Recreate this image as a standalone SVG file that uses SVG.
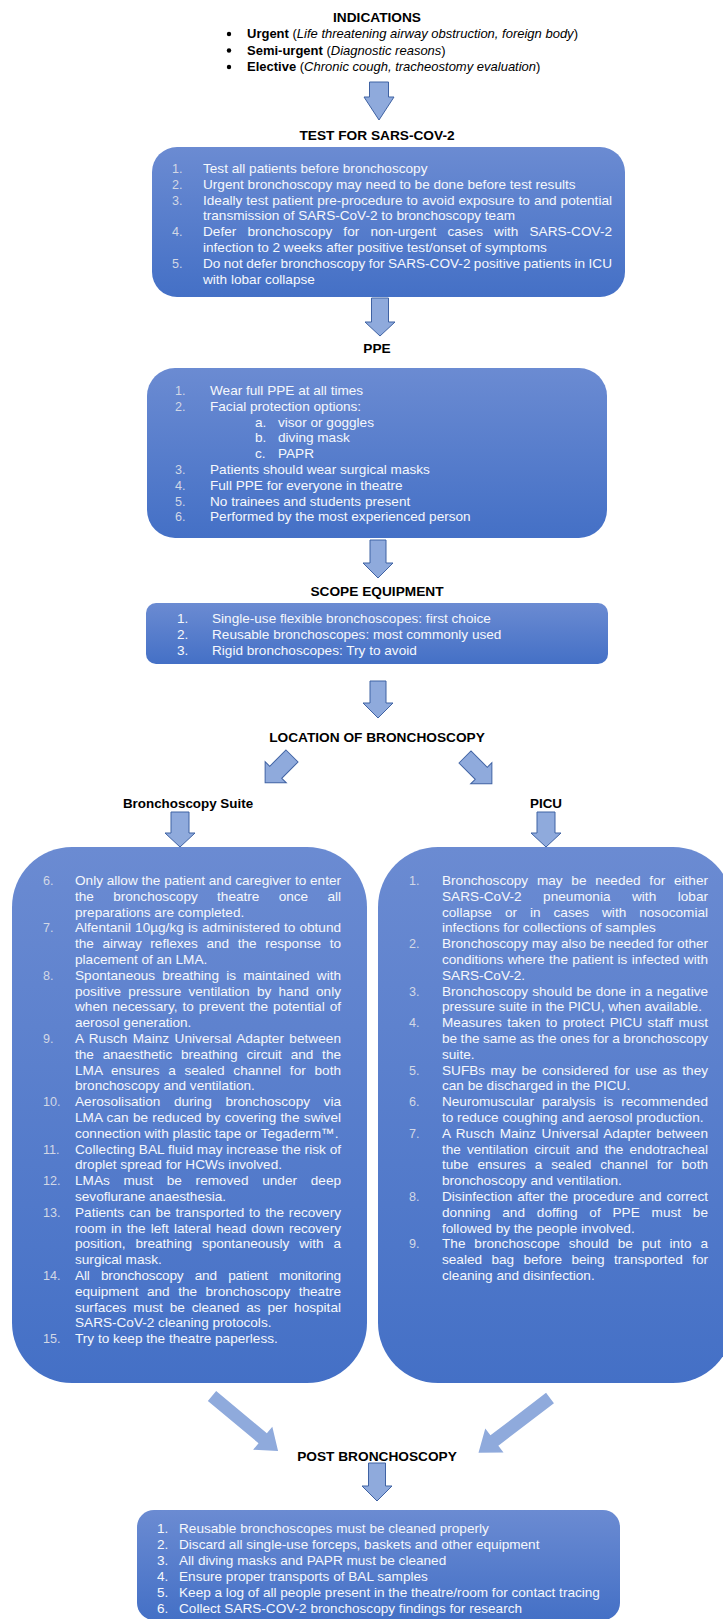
<svg xmlns="http://www.w3.org/2000/svg" width="723" height="1619" viewBox="0 0 723 1619">
<style>
text{font-family:"Liberation Sans",Arial,sans-serif}
.h{font-size:13.7px;font-weight:bold;fill:#000;text-anchor:middle}
.b{font-size:13px;fill:#000}
.t{font-size:13.6px;fill:#f6f8fc}
.n{font-size:12.6px;fill:#d2d8e6}
.w{font-size:13.6px;fill:#f6f8fc}
.box{fill:url(#g)}
.arr{fill:#8faadc;stroke:#3f62a3;stroke-width:1}
.arr2{fill:#8faadc}
</style>
<defs>
<linearGradient id="g" x1="0" y1="0" x2="0" y2="1">
<stop offset="0" stop-color="#6b8bd2"/>
<stop offset="1" stop-color="#4470c6"/>
</linearGradient>
<path id="da" d="M-8.5,0 H8.5 V23 H15 L0,38 L-15,23 H-8.5 Z"/>
</defs>
<rect width="723" height="1619" fill="#fff"/>

<g id="connectors">
<path class="arr" d="M369.5,82 H388.5 V97 H394 L379,120 L364,97 H369.5 Z"/>
<path class="arr" d="M371.5,298 H388.5 V322 H395 L380,336 L365,322 H371.5 Z"/>
<path class="arr" d="M370,540 H386 V563 H393 L378,578 L363,563 H370 Z"/>
<path class="arr" d="M370,681 H386 V703 H393 L378,718 L363,703 H370 Z"/>
<use href="#da" class="arr" transform="translate(292,756) rotate(45)"/>
<use href="#da" class="arr" transform="translate(465,757) rotate(-45)"/>
<path class="arr" d="M171,812 H189 V833 H195 L180,847 L165,833 H171 Z"/>
<path class="arr" d="M537,812 H555 V833 H561 L546,847 L531,833 H537 Z"/>
<polygon class="arr2" points="0,-6.5 66,-6.5 66,-15 86,0 66,15 66,6.5 0,6.5" transform="translate(212,1396) rotate(39.8)"/>
<polygon class="arr2" points="0,-6.5 70,-6.5 70,-15 90,0 70,15 70,6.5 0,6.5" transform="translate(550,1398) rotate(142.6)"/>
<path class="arr" d="M368.5,1463 H385.5 V1486 H392 L377,1501 L362,1486 H368.5 Z"/>
</g>

<g id="n-indications">
<text class="h" x="377" y="22">INDICATIONS</text>
<circle cx="229" cy="34" r="2.2" fill="#000"/>
<circle cx="229" cy="50.5" r="2.2" fill="#000"/>
<circle cx="229" cy="67" r="2.2" fill="#000"/>
<text class="b" x="247" y="38"><tspan font-weight="bold">Urgent</tspan> (<tspan font-style="italic">Life threatening airway obstruction, foreign body</tspan>)</text>
<text class="b" x="247" y="54.5"><tspan font-weight="bold">Semi-urgent</tspan> (<tspan font-style="italic">Diagnostic reasons</tspan>)</text>
<text class="b" x="247" y="71"><tspan font-weight="bold">Elective</tspan> (<tspan font-style="italic">Chronic cough, tracheostomy evaluation</tspan>)</text>
</g>

<g id="n-test">
<text class="h" x="377" y="140">TEST FOR SARS-COV-2</text>
<rect class="box" x="152" y="147" width="473" height="150" rx="25"/>
<text class="n" x="172" y="173">1.</text>
<text class="t" x="203" y="173">Test all patients before bronchoscopy</text>
<text class="n" x="172" y="188.8">2.</text>
<text class="t" x="203" y="188.8">Urgent bronchoscopy may need to be done before test results</text>
<text class="n" x="172" y="204.6">3.</text>
<text class="t" x="203" y="204.6" word-spacing="0.3" textLength="409" lengthAdjust="spacing">Ideally test patient pre-procedure to avoid exposure to and potential</text>
<text class="t" x="203" y="220.4">transmission of SARS-CoV-2 to bronchoscopy team</text>
<text class="n" x="172" y="236.2">4.</text>
<text class="t" x="203" y="236.2" word-spacing="7.3" textLength="409" lengthAdjust="spacing">Defer bronchoscopy for non-urgent cases with SARS-COV-2</text>
<text class="t" x="203" y="252">infection to 2 weeks after positive test/onset of symptoms</text>
<text class="n" x="172" y="267.8">5.</text>
<text class="t" x="203" y="267.8" word-spacing="-0.4" textLength="409" lengthAdjust="spacing">Do not defer bronchoscopy for SARS-COV-2 positive patients in ICU</text>
<text class="t" x="203" y="283.6">with lobar collapse</text>
</g>

<g id="n-ppe">
<text class="h" x="377" y="353">PPE</text>
<rect class="box" x="147" y="368" width="460" height="170" rx="28"/>
<text class="n" x="175" y="395">1.</text>
<text class="t" x="210" y="395">Wear full PPE at all times</text>
<text class="n" x="175" y="410.8">2.</text>
<text class="t" x="210" y="410.8">Facial protection options:</text>
<text class="t" x="255" y="426.6">a.</text>
<text class="t" x="278" y="426.6">visor or goggles</text>
<text class="t" x="255" y="442.4">b.</text>
<text class="t" x="278" y="442.4">diving mask</text>
<text class="t" x="255" y="458.2">c.</text>
<text class="t" x="278" y="458.2">PAPR</text>
<text class="n" x="175" y="474">3.</text>
<text class="t" x="210" y="474">Patients should wear surgical masks</text>
<text class="n" x="175" y="489.8">4.</text>
<text class="t" x="210" y="489.8">Full PPE for everyone in theatre</text>
<text class="n" x="175" y="505.6">5.</text>
<text class="t" x="210" y="505.6">No trainees and students present</text>
<text class="n" x="175" y="521.4">6.</text>
<text class="t" x="210" y="521.4">Performed by the most experienced person</text>
</g>

<g id="n-scope">
<text class="h" x="377" y="596">SCOPE EQUIPMENT</text>
<rect class="box" x="146" y="603" width="462" height="61" rx="10"/>
<text class="w" x="177" y="623">1.</text>
<text class="t" x="212" y="623">Single-use flexible bronchoscopes: first choice</text>
<text class="w" x="177" y="639">2.</text>
<text class="t" x="212" y="639">Reusable bronchoscopes: most commonly used</text>
<text class="w" x="177" y="655">3.</text>
<text class="t" x="212" y="655">Rigid bronchoscopes: Try to avoid</text>
</g>

<g id="n-location">
<text class="h" x="377" y="742">LOCATION OF BRONCHOSCOPY</text>
</g>

<g id="n-suite">
<text class="h" x="188" y="808" style="font-size:13.4px">Bronchoscopy Suite</text>
<rect class="box" x="12" y="847" width="355" height="536" rx="60"/>
<text class="n" x="43" y="885">6.</text>
<text class="t" x="75" y="885" textLength="266" lengthAdjust="spacing">Only allow the patient and caregiver to enter</text>
<text class="t" x="75" y="900.8" word-spacing="15.5" textLength="266" lengthAdjust="spacing">the bronchoscopy theatre once all</text>
<text class="t" x="75" y="916.6">preparations are completed.</text>
<text class="n" x="43" y="932.4">7.</text>
<text class="t" x="75" y="932.4" word-spacing="0.4" textLength="266" lengthAdjust="spacing">Alfentanil 10µg/kg is administered to obtund</text>
<text class="t" x="75" y="948.2" word-spacing="4.8" textLength="266" lengthAdjust="spacing">the airway reflexes and the response to</text>
<text class="t" x="75" y="964">placement of an LMA.</text>
<text class="n" x="43" y="979.8">8.</text>
<text class="t" x="75" y="979.8" word-spacing="3.4" textLength="266" lengthAdjust="spacing">Spontaneous breathing is maintained with</text>
<text class="t" x="75" y="995.6" word-spacing="3.5" textLength="266" lengthAdjust="spacing">positive pressure ventilation by hand only</text>
<text class="t" x="75" y="1011.4" word-spacing="1.1" textLength="266" lengthAdjust="spacing">when necessary, to prevent the potential of</text>
<text class="t" x="75" y="1027.2">aerosol generation.</text>
<text class="n" x="43" y="1043">9.</text>
<text class="t" x="75" y="1043" word-spacing="1.5" textLength="266" lengthAdjust="spacing">A Rusch Mainz Universal Adapter between</text>
<text class="t" x="75" y="1058.8" word-spacing="5" textLength="266" lengthAdjust="spacing">the anaesthetic breathing circuit and the</text>
<text class="t" x="75" y="1074.6" word-spacing="4.9" textLength="266" lengthAdjust="spacing">LMA ensures a sealed channel for both</text>
<text class="t" x="75" y="1090.4">bronchoscopy and ventilation.</text>
<text class="n" x="43" y="1106.2">10.</text>
<text class="t" x="75" y="1106.2" word-spacing="9.8" textLength="266" lengthAdjust="spacing">Aerosolisation during bronchoscopy via</text>
<text class="t" x="75" y="1122" word-spacing="0.5" textLength="266" lengthAdjust="spacing">LMA can be reduced by covering the swivel</text>
<text class="t" x="75" y="1137.8">connection with plastic tape or Tegaderm™.</text>
<text class="n" x="43" y="1153.6">11.</text>
<text class="t" x="75" y="1153.6" textLength="266" lengthAdjust="spacing">Collecting BAL fluid may increase the risk of</text>
<text class="t" x="75" y="1169.4">droplet spread for HCWs involved.</text>
<text class="n" x="43" y="1185.2">12.</text>
<text class="t" x="75" y="1185.2" word-spacing="10" textLength="266" lengthAdjust="spacing">LMAs must be removed under deep</text>
<text class="t" x="75" y="1201">sevoflurane anaesthesia.</text>
<text class="n" x="43" y="1216.8">13.</text>
<text class="t" x="75" y="1216.8" word-spacing="1" textLength="266" lengthAdjust="spacing">Patients can be transported to the recovery</text>
<text class="t" x="75" y="1232.6" word-spacing="1.3" textLength="266" lengthAdjust="spacing">room in the left lateral head down recovery</text>
<text class="t" x="75" y="1248.4" word-spacing="6.2" textLength="266" lengthAdjust="spacing">position, breathing spontaneously with a</text>
<text class="t" x="75" y="1264.2">surgical mask.</text>
<text class="n" x="43" y="1280">14.</text>
<text class="t" x="75" y="1280" word-spacing="7.7" textLength="266" lengthAdjust="spacing">All bronchoscopy and patient monitoring</text>
<text class="t" x="75" y="1295.8" word-spacing="4.7" textLength="266" lengthAdjust="spacing">equipment and the bronchoscopy theatre</text>
<text class="t" x="75" y="1311.6" word-spacing="3.1" textLength="266" lengthAdjust="spacing">surfaces must be cleaned as per hospital</text>
<text class="t" x="75" y="1327.4">SARS-CoV-2 cleaning protocols.</text>
<text class="n" x="43" y="1343.2">15.</text>
<text class="t" x="75" y="1343.2">Try to keep the theatre paperless.</text>
</g>

<g id="n-picu">
<text class="h" x="546" y="808" style="font-size:13.4px">PICU</text>
<rect class="box" x="378" y="847" width="355" height="536" rx="60"/>
<text class="n" x="409" y="885">1.</text>
<text class="t" x="442" y="885" word-spacing="5" textLength="266" lengthAdjust="spacing">Bronchoscopy may be needed for either</text>
<text class="t" x="442" y="900.8" word-spacing="17.6" textLength="266" lengthAdjust="spacing">SARS-CoV-2 pneumonia with lobar</text>
<text class="t" x="442" y="916.6" word-spacing="9.2" textLength="266" lengthAdjust="spacing">collapse or in cases with nosocomial</text>
<text class="t" x="442" y="932.4">infections for collections of samples</text>
<text class="n" x="409" y="948.2">2.</text>
<text class="t" x="442" y="948.2" textLength="266" lengthAdjust="spacing">Bronchoscopy may also be needed for other</text>
<text class="t" x="442" y="964" word-spacing="0.6" textLength="266" lengthAdjust="spacing">conditions where the patient is infected with</text>
<text class="t" x="442" y="979.8">SARS-CoV-2.</text>
<text class="n" x="409" y="995.6">3.</text>
<text class="t" x="442" y="995.6" word-spacing="0.4" textLength="266" lengthAdjust="spacing">Bronchoscopy should be done in a negative</text>
<text class="t" x="442" y="1011.4">pressure suite in the PICU, when available.</text>
<text class="n" x="409" y="1027.2">4.</text>
<text class="t" x="442" y="1027.2" word-spacing="1.6" textLength="266" lengthAdjust="spacing">Measures taken to protect PICU staff must</text>
<text class="t" x="442" y="1043" word-spacing="-0.3" textLength="266" lengthAdjust="spacing">be the same as the ones for a bronchoscopy</text>
<text class="t" x="442" y="1058.8">suite.</text>
<text class="n" x="409" y="1074.6">5.</text>
<text class="t" x="442" y="1074.6" word-spacing="1.6" textLength="266" lengthAdjust="spacing">SUFBs may be considered for use as they</text>
<text class="t" x="442" y="1090.4">can be discharged in the PICU.</text>
<text class="n" x="409" y="1106.2">6.</text>
<text class="t" x="442" y="1106.2" word-spacing="4.3" textLength="266" lengthAdjust="spacing">Neuromuscular paralysis is recommended</text>
<text class="t" x="442" y="1122">to reduce coughing and aerosol production.</text>
<text class="n" x="409" y="1137.8">7.</text>
<text class="t" x="442" y="1137.8" word-spacing="1.5" textLength="266" lengthAdjust="spacing">A Rusch Mainz Universal Adapter between</text>
<text class="t" x="442" y="1153.6" word-spacing="2.4" textLength="266" lengthAdjust="spacing">the ventilation circuit and the endotracheal</text>
<text class="t" x="442" y="1169.4" word-spacing="5.1" textLength="266" lengthAdjust="spacing">tube ensures a sealed channel for both</text>
<text class="t" x="442" y="1185.2">bronchoscopy and ventilation.</text>
<text class="n" x="409" y="1201">8.</text>
<text class="t" x="442" y="1201" word-spacing="1" textLength="266" lengthAdjust="spacing">Disinfection after the procedure and correct</text>
<text class="t" x="442" y="1216.8" word-spacing="8" textLength="266" lengthAdjust="spacing">donning and doffing of PPE must be</text>
<text class="t" x="442" y="1232.6">followed by the people involved.</text>
<text class="n" x="409" y="1248.4">9.</text>
<text class="t" x="442" y="1248.4" word-spacing="5.1" textLength="266" lengthAdjust="spacing">The bronchoscope should be put into a</text>
<text class="t" x="442" y="1264.2" word-spacing="5.6" textLength="266" lengthAdjust="spacing">sealed bag before being transported for</text>
<text class="t" x="442" y="1280">cleaning and disinfection.</text>
</g>

<g id="n-post">
<text class="h" x="377" y="1461">POST BRONCHOSCOPY</text>
<rect class="box" x="137" y="1510" width="483" height="110" rx="17"/>
<text class="w" x="157" y="1533">1.</text>
<text class="t" x="179" y="1533">Reusable bronchoscopes must be cleaned properly</text>
<text class="w" x="157" y="1548.9">2.</text>
<text class="t" x="179" y="1548.9">Discard all single-use forceps, baskets and other equipment</text>
<text class="w" x="157" y="1564.8">3.</text>
<text class="t" x="179" y="1564.8">All diving masks and PAPR must be cleaned</text>
<text class="w" x="157" y="1580.7">4.</text>
<text class="t" x="179" y="1580.7">Ensure proper transports of BAL samples</text>
<text class="w" x="157" y="1596.6">5.</text>
<text class="t" x="179" y="1596.6">Keep a log of all people present in the theatre/room for contact tracing</text>
<text class="w" x="157" y="1612.5">6.</text>
<text class="t" x="179" y="1612.5">Collect SARS-COV-2 bronchoscopy findings for research</text>
</g>
</svg>
